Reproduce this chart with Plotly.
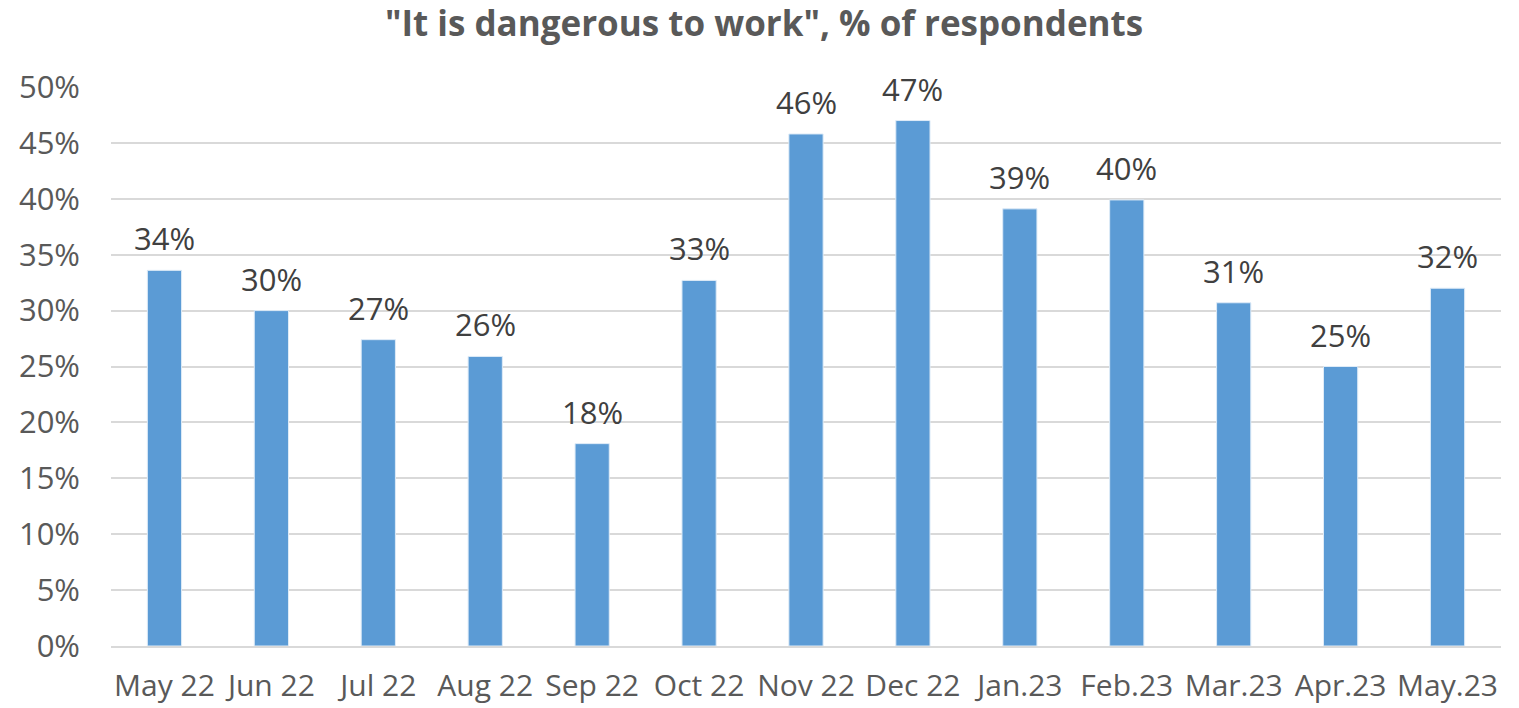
import plotly.graph_objects as go

categories = ["May 22", "Jun 22", "Jul 22", "Aug 22", "Sep 22", "Oct 22", "Nov 22",
              "Dec 22", "Jan.23", "Feb.23", "Mar.23", "Apr.23", "May.23"]
values = [0.336, 0.300, 0.274, 0.259, 0.181, 0.327, 0.458, 0.470, 0.391, 0.399, 0.307, 0.250, 0.320]
labels = ["34%", "30%", "27%", "26%", "18%", "33%", "46%", "47%", "39%", "40%", "31%", "25%", "32%"]
y_ticks = [0, 0.05, 0.10, 0.15, 0.20, 0.25, 0.30, 0.35, 0.40, 0.45, 0.50]

FONT = "Open Sans"

fig = go.Figure(go.Bar(
    x=categories, y=values,
    marker=dict(color="#5B9BD5", line=dict(color="#DEEBF7", width=1)),
    width=0.32, hoverinfo="x+y",
))

for c, v, t in zip(categories, values, labels):
    fig.add_annotation(x=c, y=v, text=t, showarrow=False, xanchor="center",
                       yanchor="bottom", yshift=9,
                       font=dict(family=FONT, size=31, color="#404040"))

fig.update_layout(
    width=1519, height=708,
    margin=dict(l=111, r=18, t=87, b=62),
    paper_bgcolor="white", plot_bgcolor="white",
    title=dict(text='<b>"It is dangerous to work", % of respondents</b>',
               x=0.503, xanchor="center", y=0.966, yanchor="middle",
               font=dict(family=FONT, size=35, color="#595959")),
    showlegend=False,
)
fig.update_yaxes(range=[0, 0.5], tickvals=y_ticks, tickformat=".0%",
                 showgrid=True, gridcolor="#D9D9D9", gridwidth=1.5,
                 zeroline=False, showline=False, automargin=False,
                 tickfont=dict(family=FONT, size=31, color="#595959"),
                 ticklabelstandoff=30)
fig.update_xaxes(showline=True, linecolor="#D9D9D9", linewidth=1.5,
                 automargin=False,
                 tickfont=dict(family=FONT, size=30, color="#595959"),
                 ticklabelstandoff=12)

fig.write_html("out.html")
